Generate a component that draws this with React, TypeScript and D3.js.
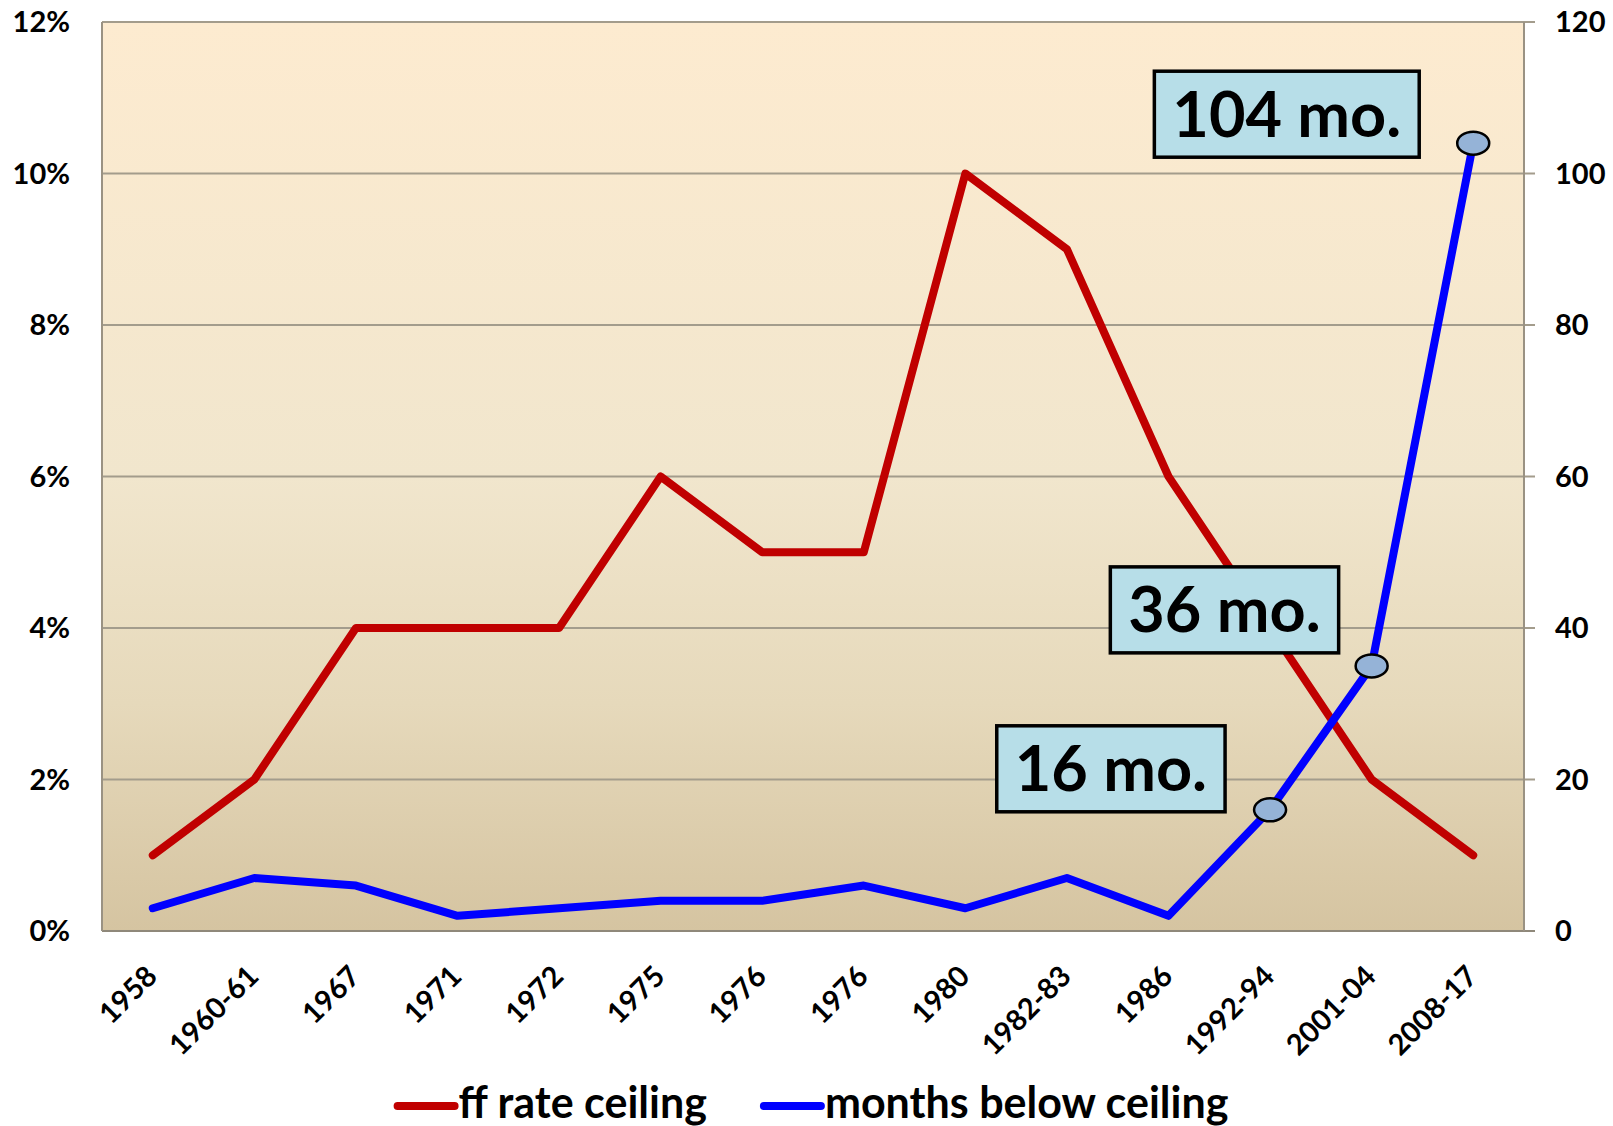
import React, { useEffect, useRef } from "react";
import * as d3 from "d3";

const categories = ["1958", "1960-61", "1967", "1971", "1972", "1975", "1976", "1976", "1980", "1982-83", "1986", "1992-94", "2001-04", "2008-17"];
const ffRateCeiling = [1, 2, 4, 4, 4, 6, 5, 5, 10, 9, 6, 4, 2, 1];
const monthsBelowCeiling = [3, 7, 6, 2, 3, 4, 4, 6, 3, 7, 2, 16, 35, 104];
const leftTicks = [0, 2, 4, 6, 8, 10, 12];
const rightTicks = [0, 20, 40, 60, 80, 100, 120];
const seriesNames = ["ff rate ceiling", "months below ceiling"];
const annotationIndex = [11, 12, 13];
const annotationLabels = ["16 mo.", "36 mo.", "104 mo."];

const FONT = "Lato, 'Open Sans', sans-serif";

export default function App() {
  const ref = useRef<SVGSVGElement>(null);
  useEffect(() => {
    const svg = d3.select(ref.current);
    svg.selectAll("*").remove();
    const m = { l: 102, r: 1524, t: 22, b: 931 };
    const x = d3.scaleBand<number>().domain(d3.range(categories.length)).range([m.l, m.r]).padding(0);
    const cx = (i: number) => (x(i) as number) + x.bandwidth() / 2;
    const yL = d3.scaleLinear().domain([0, 12]).range([m.b, m.t]);
    const yR = d3.scaleLinear().domain([0, 120]).range([m.b, m.t]);

    const defs = svg.append("defs");
    const g = defs.append("linearGradient").attr("id", "bg").attr("x1", 0).attr("y1", 0).attr("x2", 0).attr("y2", 1);
    g.append("stop").attr("offset", 0).attr("stop-color", "#fdebd0");
    g.append("stop").attr("offset", 0.5).attr("stop-color", "#f1e6cd");
    g.append("stop").attr("offset", 0.75).attr("stop-color", "#e6d9bb");
    g.append("stop").attr("offset", 1).attr("stop-color", "#d5c4a1");

    svg.append("rect").attr("x", m.l).attr("y", m.t).attr("width", m.r - m.l).attr("height", m.b - m.t).attr("fill", "url(#bg)");

    // gridlines + right ticks
    svg.append("g").selectAll("line").data(leftTicks).join("line")
      .attr("x1", m.l).attr("x2", m.r + 11)
      .attr("y1", (d) => yL(d)).attr("y2", (d) => yL(d))
      .attr("stroke", (d) => (d === 0 ? "#8f887a" : "#a39c8c")).attr("stroke-width", 2);
    svg.append("line").attr("x1", m.l).attr("x2", m.l).attr("y1", m.t).attr("y2", m.b).attr("stroke", "#9a9283").attr("stroke-width", 2);
    svg.append("line").attr("x1", m.r).attr("x2", m.r).attr("y1", m.t).attr("y2", m.b).attr("stroke", "#9a9283").attr("stroke-width", 2);

    // left labels
    svg.append("g").selectAll("text").data(leftTicks).join("text")
      .attr("x", 70).attr("y", (d) => yL(d) + 10)
      .attr("text-anchor", "end").attr("font-family", FONT).attr("font-weight", 700).attr("font-size", 29).attr("fill", "#000")
      .text((d) => d3.format(".0%")(d / 100));
    // right labels
    svg.append("g").selectAll("text").data(rightTicks).join("text")
      .attr("x", 1555).attr("y", (d) => yR(d) + 10)
      .attr("text-anchor", "start").attr("font-family", FONT).attr("font-weight", 700).attr("font-size", 29).attr("fill", "#000")
      .text((d) => String(d));
    // x labels
    svg.append("g").selectAll("text").data(categories).join("text")
      .attr("transform", (_d, i) => `translate(${cx(i) + 6},${m.b + 47}) rotate(-45)`)
      .attr("text-anchor", "end").attr("font-family", FONT).attr("font-weight", 700).attr("font-size", 29).attr("fill", "#000")
      .text((d) => d);

    const lineL = d3.line<number>().x((_d, i) => cx(i)).y((d) => yL(d));
    const lineR = d3.line<number>().x((_d, i) => cx(i)).y((d) => yR(d));
    svg.append("path").attr("d", lineL(ffRateCeiling)).attr("fill", "none").attr("stroke", "#c00000").attr("stroke-width", 8)
      .attr("stroke-linecap", "round").attr("stroke-linejoin", "round");
    svg.append("path").attr("d", lineR(monthsBelowCeiling)).attr("fill", "none").attr("stroke", "#0000ff").attr("stroke-width", 8)
      .attr("stroke-linecap", "round").attr("stroke-linejoin", "round");

    svg.append("g").selectAll("ellipse").data(annotationIndex).join("ellipse")
      .attr("cx", (i) => cx(i)).attr("cy", (i) => yR(monthsBelowCeiling[i]))
      .attr("rx", 16).attr("ry", 11.5).attr("fill", "#95b3d7").attr("stroke", "#000").attr("stroke-width", 2.5);

    // annotation boxes (offsets relative to marker)
    const boxRightDx = [-45, -33, -54];
    const boxCyDy = [-41, -56, -29];
    const boxH = 86;
    annotationIndex.forEach((idx, k) => {
      const px = cx(idx);
      const py = yR(monthsBelowCeiling[idx]);
      const grp = svg.append("g");
      const rect = grp.append("rect");
      const t = grp.append("text").attr("font-family", FONT).attr("font-weight", 700).attr("font-size", 63).attr("fill", "#000")
        .attr("text-anchor", "middle").text(annotationLabels[k]);
      const tw = (t.node() as SVGTextElement).getComputedTextLength();
      const bw = tw + 36;
      const right = px + boxRightDx[k];
      const cy = py + boxCyDy[k];
      rect.attr("x", right - bw).attr("y", cy - boxH / 2).attr("width", bw).attr("height", boxH)
        .attr("fill", "#b7dee8").attr("stroke", "#000").attr("stroke-width", 3.5);
      t.attr("x", right - bw / 2).attr("y", cy + 22.5);
    });

    // legend
    const colors = ["#c00000", "#0000ff"];
    const leg = svg.append("g");
    const lineW = 57, gap1 = 4, gap2 = 57;
    const items = seriesNames.map((name, k) => {
      const gi = leg.append("g");
      gi.append("line").attr("x1", 0).attr("x2", lineW).attr("y1", 0).attr("y2", 0)
        .attr("stroke", colors[k]).attr("stroke-width", 8).attr("stroke-linecap", "round");
      const t = gi.append("text").attr("x", lineW + gap1).attr("y", 12).attr("font-family", FONT).attr("font-weight", 700)
        .attr("font-size", 43).attr("fill", "#000").text(name);
      const w = lineW + gap1 + (t.node() as SVGTextElement).getComputedTextLength();
      return { gi, w };
    });
    const total = d3.sum(items, (d) => d.w) + gap2 * (items.length - 1);
    let xs = (m.l + m.r) / 2 - total / 2;
    items.forEach((it) => {
      it.gi.attr("transform", `translate(${xs},1106)`);
      xs += it.w + gap2;
    });
  }, []);
  return <svg ref={ref} width={1613} height={1126} style={{ position: "absolute", left: 0, top: 0, background: "#fff" }} />;
}
